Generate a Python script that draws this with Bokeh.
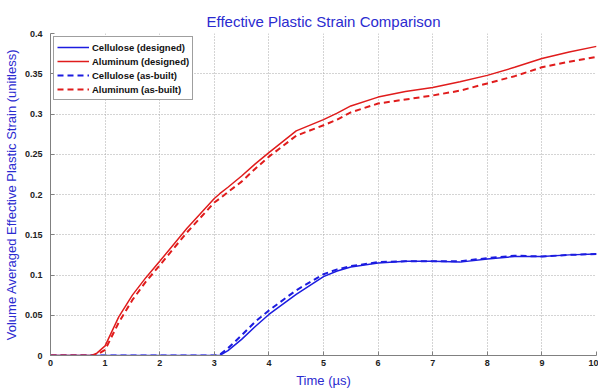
from bokeh.plotting import figure
from bokeh.models import Range1d, FixedTicker, Legend, LegendItem
from bokeh.embed import file_html
from bokeh.resources import INLINE

# ---- data ----
time_us = [0, 0.5, 0.75, 0.85, 1.0, 1.25, 1.5, 1.75, 2.0, 2.5, 3.0, 3.1, 3.25, 3.5,
           3.75, 4.0, 4.5, 5.0, 5.25, 5.5, 6.0, 6.5, 7.0, 7.5, 8.0, 8.5, 9.0, 9.5, 10.0]
cellulose_designed = [0, 0, 0, 0, 0, 0, 0, 0, 0, 0, 0, 0.0, 0.006, 0.020,
                      0.036, 0.051, 0.076, 0.098, 0.105, 0.110, 0.115, 0.117, 0.117, 0.116,
                      0.120, 0.123, 0.123, 0.125, 0.126]
aluminum_designed = [0, 0, 0, 0.003, 0.012, 0.048, 0.075, 0.097, 0.117, 0.158, 0.195, 0.201,
                     0.209, 0.223, 0.238, 0.252, 0.279, 0.293, 0.301, 0.310, 0.321, 0.328,
                     0.333, 0.340, 0.348, 0.358, 0.369, 0.377, 0.384]
cellulose_asbuilt = [0, 0, 0, 0, 0, 0, 0, 0, 0, 0, 0, 0.001, 0.009, 0.025,
                     0.042, 0.056, 0.081, 0.101, 0.107, 0.111, 0.116, 0.117, 0.117, 0.117,
                     0.121, 0.124, 0.123, 0.125, 0.126]
aluminum_asbuilt = [0, 0, 0, 0.001, 0.007, 0.041, 0.069, 0.092, 0.112, 0.153, 0.190, 0.195,
                    0.203, 0.216, 0.232, 0.247, 0.273, 0.286, 0.293, 0.302, 0.313, 0.318,
                    0.323, 0.329, 0.338, 0.347, 0.358, 0.365, 0.371]
x_ticks = [0, 1, 2, 3, 4, 5, 6, 7, 8, 9, 10]
y_ticks = [0, 0.05, 0.1, 0.15, 0.2, 0.25, 0.3, 0.35, 0.4]
y_tick_labels = ["0", "0.05", "0.1", "0.15", "0.2", "0.25", "0.3", "0.35", "0.4"]
series_names = ["Cellulose (designed)", "Aluminum (designed)",
                "Cellulose (as-built)", "Aluminum (as-built)"]

BLUE = "#1c1ce0"
RED = "#e01c1c"
TXT_BLUE = "#2b2bd0"
FONT = "Liberation Sans"

p = figure(width=598, height=390, output_backend="svg", toolbar_location=None,
           x_range=Range1d(0, 10), y_range=Range1d(0, 0.4),
           min_border_left=49, min_border_right=2, min_border_top=33, min_border_bottom=33)

p.title.text = "Effective Plastic Strain Comparison"
p.title.align = "center"
p.title.text_font = FONT
p.title.text_font_size = "15px"
p.title.text_font_style = "normal"
p.title.text_color = TXT_BLUE
p.title.standoff = 8

p.outline_line_color = None
p.background_fill_color = "white"
p.border_fill_color = "white"

for ax in (p.xaxis[0], p.yaxis[0]):
    ax.axis_line_color = "#808080"
    ax.major_tick_line_color = "#808080"
    ax.major_tick_out = 0
    ax.major_tick_in = 4
    ax.minor_tick_line_color = None
    ax.major_label_text_font = FONT
    ax.major_label_text_font_size = "9px"
    ax.major_label_text_font_style = "bold"
    ax.major_label_text_color = "#222222"
    ax.axis_label_text_font = FONT
    ax.axis_label_text_font_size = "13px"
    ax.axis_label_text_font_style = "normal"
    ax.axis_label_text_color = TXT_BLUE

p.xaxis.ticker = FixedTicker(ticks=x_ticks)
p.yaxis.ticker = FixedTicker(ticks=y_ticks)
p.yaxis.major_label_overrides = {t: s for t, s in zip(y_ticks, y_tick_labels)}
p.xaxis.axis_label = "Time (\u00b5s)"
p.yaxis.axis_label = "Volume Averaged Effective Plastic Strain (unitless)"
p.xaxis.major_label_standoff = 4
p.yaxis.major_label_standoff = 8
p.xaxis.axis_label_standoff = 4
p.yaxis.axis_label_standoff = 3

for g in (p.xgrid[0], p.ygrid[0]):
    g.grid_line_color = "#a8a8a8"
    g.grid_line_dash = "1 2"
    g.grid_line_width = 1

r1 = p.line(time_us, cellulose_designed, line_color=BLUE, line_width=1.5)
r2 = p.line(time_us, aluminum_designed, line_color=RED, line_width=1.5)
r3 = p.line(time_us, cellulose_asbuilt, line_color=BLUE, line_width=2, line_dash="6 4")
r4 = p.line(time_us, aluminum_asbuilt, line_color=RED, line_width=2, line_dash="6 4")

legend = Legend(items=[LegendItem(label=n, renderers=[r]) for n, r in zip(series_names, [r1, r2, r3, r4])],
                location="top_left", margin=3, padding=3, spacing=0,
                glyph_width=32, glyph_height=14, label_height=14, label_standoff=3,
                label_text_font=FONT, label_text_font_size="9.5px", label_text_font_style="bold",
                label_text_color="#111111", border_line_color="#404040", border_line_width=1,
                background_fill_color="white", background_fill_alpha=1.0)
p.add_layout(legend)

open("out.html", "w").write(file_html(p, INLINE))
